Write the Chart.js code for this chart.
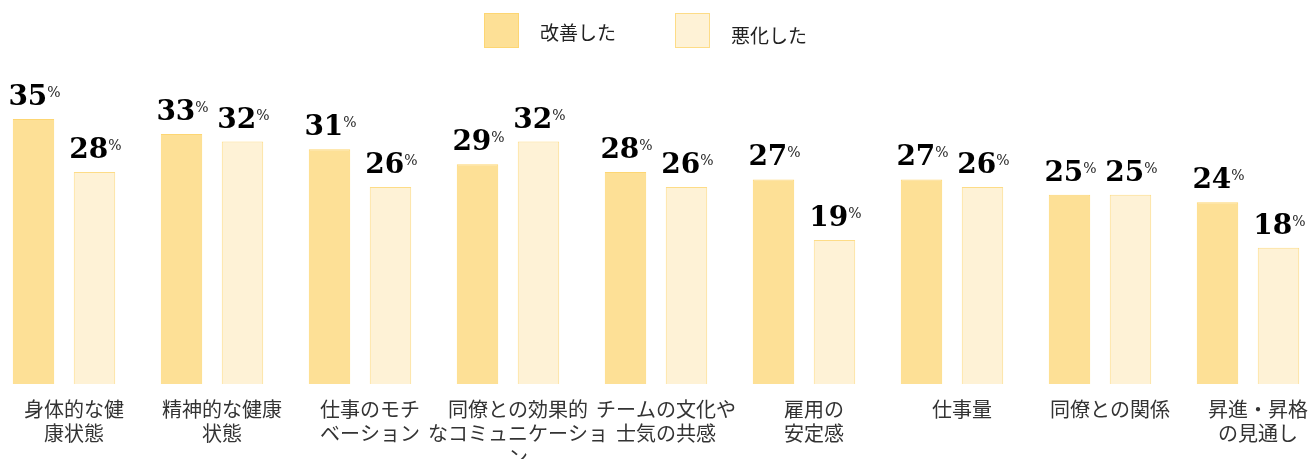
<!doctype html>
<html lang="ja">
<head>
<meta charset="utf-8">
<title>改善した / 悪化した</title>
<style>
  html, body { margin: 0; padding: 0; background: #fff; overflow: hidden; }
  #wrap { position: absolute; left: -10px; top: 0; width: 1332px; height: 482px; }
</style>
</head>
<body>
<div id="wrap"><canvas id="chart" width="1332" height="482"></canvas></div>
<script src="https://cdn.jsdelivr.net/npm/chart.js"></script>
<script>
const categories = [
  ['身体的な健', '康状態'],
  ['精神的な健康', '状態'],
  ['仕事のモチ', 'ベーション'],
  ['同僚との効果的', 'なコミュニケーショ', 'ン'],
  ['チームの文化や', '士気の共感'],
  ['雇用の', '安定感'],
  ['仕事量'],
  ['同僚との関係'],
  ['昇進・昇格', 'の見通し'],
]
const improved = [35, 33, 31, 29, 28, 27, 27, 25, 24]
const worsened = [28, 32, 26, 32, 26, 19, 26, 25, 18]

const jpFont = '"Noto Sans CJK JP", "Noto Sans", sans-serif'

// number + small "%" above each bar
const valueLabels = {
  id: 'valueLabels',
  afterDatasetsDraw(chart) {
    const ctx = chart.ctx
    ctx.save()
    ctx.textBaseline = 'alphabetic'
    chart.data.datasets.forEach((ds, i) => {
      chart.getDatasetMeta(i).data.forEach((bar, j) => {
        const num = String(ds.data[j])
        ctx.font = 'bold 28px "DejaVu Serif", serif'
        const wNum = ctx.measureText(num).width
        ctx.font = '14px "DejaVu Serif", serif'
        const wPct = ctx.measureText('%').width
        const x0 = bar.x - (wNum + wPct) / 2 + 1
        const base = bar.y - 14
        ctx.fillStyle = '#000'
        ctx.font = 'bold 28px "DejaVu Serif", serif'
        ctx.fillText(num, x0, base)
        ctx.fillStyle = '#222'
        ctx.font = '14px "DejaVu Serif", serif'
        ctx.fillText('%', x0 + wNum, base - 8)
      })
    })
    ctx.restore()
  },
}

// legend boxes across the top
const topLegend = {
  id: 'topLegend',
  afterDraw(chart) {
    const ctx = chart.ctx
    ctx.save()
    ctx.font = '19px ' + jpFont
    ctx.textBaseline = 'middle'
    const xs = [494, 685]
    const ys = [33, 36]
    chart.data.datasets.forEach((ds, i) => {
      ctx.fillStyle = ds.backgroundColor
      ctx.strokeStyle = ds.borderColor
      ctx.lineWidth = 1
      ctx.fillRect(xs[i], 13, 35, 35)
      ctx.strokeRect(xs[i] + 0.5, 13.5, 34, 34)
      ctx.fillStyle = '#222'
      ctx.fillText(ds.label, xs[i] + 56, ys[i])
    })
    ctx.restore()
  },
}

new Chart(document.getElementById('chart'), {
  type: 'bar',
  data: {
    labels: categories,
    datasets: [
      {
        label: '改善した',
        data: improved,
        backgroundColor: 'rgb(253, 224, 150)',
        borderColor: 'rgb(253, 214, 115)',
        borderWidth: 1,
        categoryPercentage: 0.824,
        barPercentage: 0.68,
      },
      {
        label: '悪化した',
        data: worsened,
        backgroundColor: 'rgb(254, 242, 214)',
        borderColor: 'rgb(253, 220, 135)',
        borderWidth: 1,
        categoryPercentage: 0.824,
        barPercentage: 0.68,
      },
    ],
  },
  options: {
    responsive: false,
    animation: false,
    devicePixelRatio: 1,
    layout: { padding: { top: 81, left: 0, right: 0, bottom: 0 } },
    plugins: { legend: { display: false }, tooltip: { enabled: false } },
    scales: {
      x: {
        grid: { display: false, drawTicks: false },
        border: { display: false },
        ticks: {
          padding: 13,
          labelOffset: 10,
          color: '#333',
          maxRotation: 0,
          autoSkip: false,
          font: { family: jpFont, size: 20, lineHeight: 1.2 },
        },
      },
      y: { display: false, min: 0, max: 40 },
    },
  },
  plugins: [valueLabels, topLegend],
})
</script>
</body>
</html>
